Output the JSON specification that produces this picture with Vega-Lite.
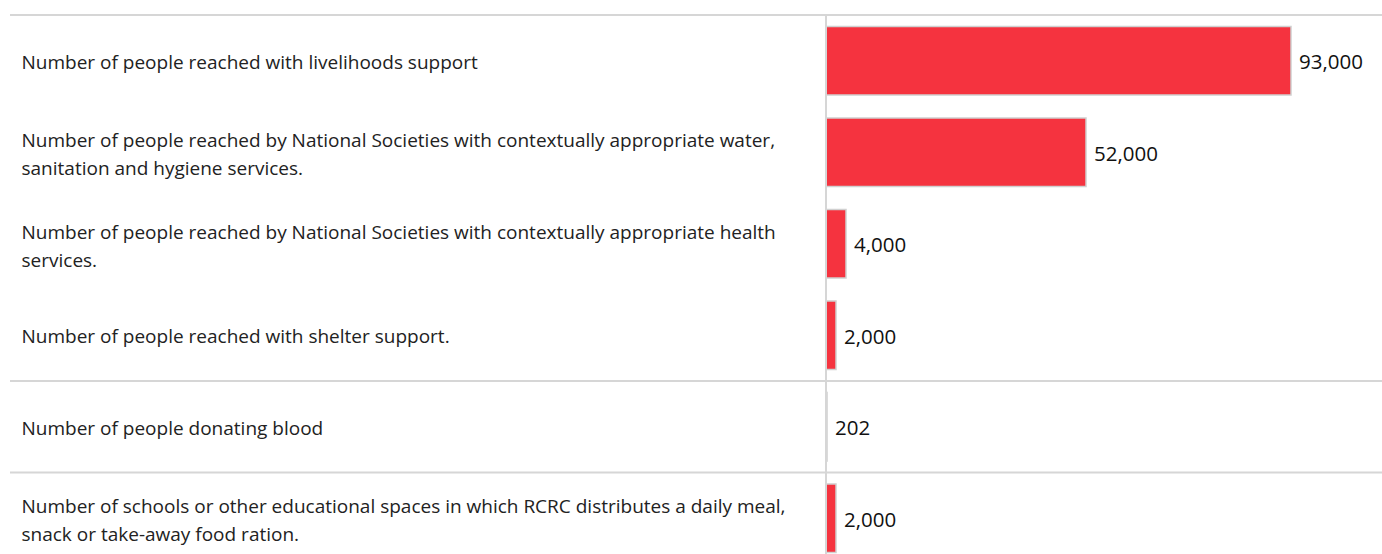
{
  "$schema": "https://vega.github.io/schema/vega-lite/v6.json",
  "autosize": "none",
  "width": 1372,
  "height": 549,
  "padding": {"left": 10, "top": 15, "right": 0, "bottom": 0},
  "background": "white",
  "config": {"view": {"stroke": null}, "font": "Open Sans"},
  "data": {
    "values": [
      {"order": 1, "newGroup": true, "label": "Number of people reached with livelihoods support", "value": 93000, "display": "93,000"},
      {"order": 2, "newGroup": false, "label": "Number of people reached by National Societies with contextually appropriate water,\nsanitation and hygiene services.", "value": 52000, "display": "52,000"},
      {"order": 3, "newGroup": false, "label": "Number of people reached by National Societies with contextually appropriate health\nservices.", "value": 4000, "display": "4,000"},
      {"order": 4, "newGroup": false, "label": "Number of people reached with shelter support.", "value": 2000, "display": "2,000"},
      {"order": 5, "newGroup": true, "label": "Number of people donating blood", "value": 202, "display": "202"},
      {"order": 6, "newGroup": true, "label": "Number of schools or other educational spaces in which RCRC distributes a daily meal,\nsnack or take-away food ration.", "value": 2000, "display": "2,000"}
    ]
  },
  "layer": [
    {
      "mark": {"type": "bar", "color": "#f5333f", "stroke": "#d0d0d0", "strokeWidth": 1.5, "height": {"band": 0.75}},
      "encoding": {
        "y": {"field": "label", "type": "nominal", "sort": {"field": "order"}, "scale": {"paddingInner": 0, "paddingOuter": 0},
          "axis": {"title": null, "orient": "left", "domain": false, "ticks": false, "labelAlign": "left", "labelPadding": -11, "labelFont": "Open Sans", "labelFontSize": 19, "labelColor": "#222222", "labelLineHeight": 28, "labelLimit": 0,
            "labelOffset": {"condition": {"test": "indexof(datum.value, '\\n') >= 0", "value": -11}, "value": 2},
            "labelExpr": "split(datum.value, '\\n')"}},
        "x": {"field": "value", "type": "quantitative", "scale": {"domain": [0, 111200], "range": [816, 1372], "nice": false, "zero": false}, "axis": null},
        "x2": {"datum": 0}
      }
    },
    {
      "transform": [{"filter": "datum.newGroup"}],
      "mark": {"type": "rule", "color": "#d6d6d6", "strokeWidth": 2},
      "encoding": {
        "y": {"field": "label", "type": "nominal", "sort": {"field": "order"}, "bandPosition": 0}
      }
    },
    {
      "mark": {"type": "rule", "color": "#d6d6d6", "strokeWidth": 2},
      "encoding": {
        "x": {"datum": 0, "type": "quantitative"}
      }
    },
    {
      "mark": {"type": "text", "align": "left", "baseline": "middle", "dx": 8, "dy": 2.5, "font": "Open Sans", "fontSize": 20.5, "color": "#111111"},
      "encoding": {
        "y": {"field": "label", "type": "nominal", "sort": {"field": "order"}},
        "x": {"field": "value", "type": "quantitative"},
        "text": {"field": "display"}
      }
    }
  ]
}
